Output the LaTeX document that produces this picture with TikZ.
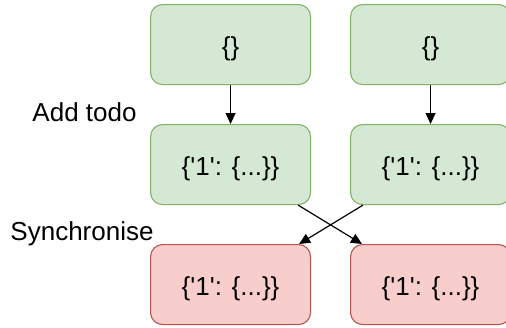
\documentclass[tikz,border=0pt]{standalone}
\usepackage{fontspec}
\setmainfont{Liberation Sans}
\usetikzlibrary{arrows.meta,calc}
\definecolor{gfill}{HTML}{D5E8D4}
\definecolor{gdraw}{HTML}{82B366}
\definecolor{rfill}{HTML}{F8CECC}
\definecolor{rdraw}{HTML}{B85450}
\newcommand{\sq}{\textquotesingle}
\begin{document}
\begin{tikzpicture}[x=1pt,y=-1pt,
  box/.style={draw, rounded corners=12pt, minimum width=160pt, minimum height=80pt,
    line width=1.1pt, inner sep=0pt, font=\fontsize{26}{30}\selectfont,
    text height=21pt, text depth=0pt, anchor=north west},
  gbox/.style={box, fill=gfill, draw=gdraw},
  rbox/.style={box, fill=rfill, draw=rdraw},
  arr/.style={line width=1.2pt, -{Triangle[length=11pt,width=10pt]}},
  lbl/.style={font=\fontsize{26}{30}\selectfont, inner sep=0pt, anchor=base}]
\useasboundingbox (0,0) rectangle (506,327);
\clip (0,0) rectangle (506,327);
\node[gbox] (a1) at (150,4) {\{\}};
\node[gbox] (b1) at (350,4) {\{\}};
\node[gbox] (a2) at (150,124) {\{\sq1\sq: \{...\}\}};
\node[gbox] (b2) at (350,124) {\{\sq1\sq: \{...\}\}};
\node[rbox] (a3) at (150,244) {\{\sq1\sq: \{...\}\}};
\node[rbox] (b3) at (350,244) {\{\sq1\sq: \{...\}\}};
\node[lbl] (t1) at (84.5,121) {Add todo};
\node[lbl] (t2) at (82,240) {Synchronise};
\draw[arr] (a1) -- (a2);
\draw[arr] (b1) -- (b2);
\draw[arr] ($(a2.south east)+(-13,0)$) -- ($(b3.north west)+(12,0)$);
\draw[arr] ($(b2.south west)+(13,0)$) -- ($(a3.north east)+(-12,0)$);
\end{tikzpicture}
\end{document}
